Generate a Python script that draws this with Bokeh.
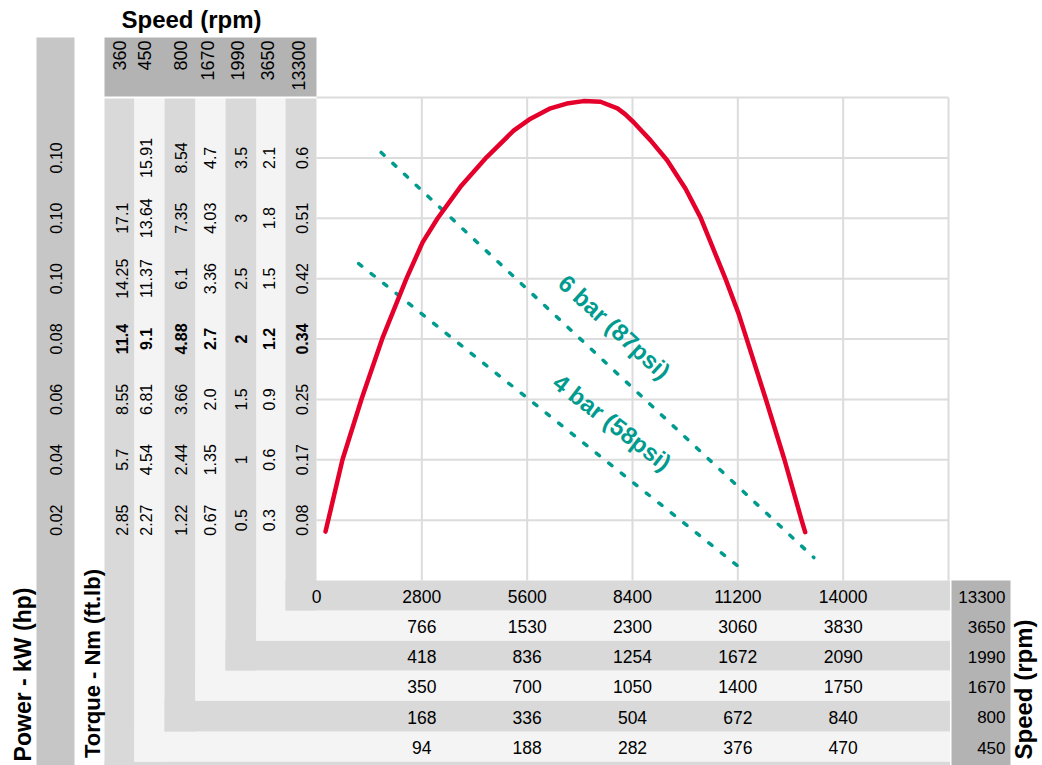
import math
from bokeh.plotting import figure
from bokeh.models import Range1d
from bokeh.core.properties import value
from bokeh.embed import file_html
from bokeh.resources import INLINE

# ---------------- data ----------------
speeds_rpm = ["360", "450", "800", "1670", "1990", "3650", "13300"]
power_kw = ["0.10", "0.10", "0.10", "0.08", "0.06", "0.04", "0.02"]      # top -> bottom
torque_360 = ["", "17.1", "14.25", "11.4", "8.55", "5.7", "2.85"]
torque_450 = ["15.91", "13.64", "11.37", "9.1", "6.81", "4.54", "2.27"]
torque_800 = ["8.54", "7.35", "6.1", "4.88", "3.66", "2.44", "1.22"]
torque_1670 = ["4.7", "4.03", "3.36", "2.7", "2.0", "1.35", "0.67"]
torque_1990 = ["3.5", "3", "2.5", "2", "1.5", "1", "0.5"]
torque_3650 = ["2.1", "1.8", "1.5", "1.2", "0.9", "0.6", "0.3"]
torque_13300 = ["0.6", "0.51", "0.42", "0.34", "0.25", "0.17", "0.08"]
torque_levels = [7, 6, 5, 4, 3, 2, 1]
bold_level = 4

x_ticks = [0, 2800, 5600, 8400, 11200, 14000]
speed_13300 = ["0", "2800", "5600", "8400", "11200", "14000"]
speed_3650 = ["766", "1530", "2300", "3060", "3830"]
speed_1990 = ["418", "836", "1254", "1672", "2090"]
speed_1670 = ["350", "700", "1050", "1400", "1750"]
speed_800 = ["168", "336", "504", "672", "840"]
speed_450 = ["94", "188", "282", "376", "470"]
row_speeds = ["13300", "3650", "1990", "1670", "800", "450"]

grid_x = [2800, 5600, 8400, 11200, 14000, 16800]
grid_levels = [1, 2, 3, 4, 5, 6, 7, 8]
x_max = 16800
level_max = 8

curve_rpm = [240, 690, 1200, 1750, 2390, 2820, 3220, 3850, 4520, 5240, 5690,
             6220, 6650, 7100, 7550, 8000, 8210, 8430, 8880, 9320, 9810,
             10210, 10870, 11220, 11430, 11940, 12440, 12890, 12990]
curve_level = [0.81, 2.0, 3.01, 4.01, 5.0, 5.6, 6.0, 6.54, 7.01, 7.45, 7.65,
               7.82, 7.9, 7.94, 7.93, 7.82, 7.72, 7.59, 7.29, 6.96, 6.49,
               6.01, 5.0, 4.42, 4.01, 3.01, 2.0, 1.01, 0.8]

bar6_rpm = [1720, 13220]
bar6_level = [7.09, 0.38]
bar4_rpm = [1120, 11180]
bar4_level = [5.25, 0.25]
bar_labels = ["6 bar (87psi)", "4 bar (58psi)"]
bar_label_rpm = [7920, 7860]
bar_label_level = [4.2, 2.62]
bar_label_angle_deg = [-42.5, -37.5]

# ---------------- layout (image pixels) ----------------
W, H = 1042, 765
MARGIN = 0
PX0, PX1 = 316, 948          # image x of 0 rpm and x_max
PY0, PY1 = 580, 97           # image y of level 0 and level_max
SX = (PX1 - PX0) / x_max
SY = (PY0 - PY1) / level_max


def dx(ix):
    return (ix - PX0) / SX


def dy(iy):
    return (PY0 - iy) / SY


FONT = value("Liberation Sans")
DARK = "#b3b3b3"
MID = "#c6c6c6"
LIGHT = "#d9d9d9"
PALE = "#f4f4f4"
GRID = "#dcdcdc"
RED = "#e4002b"
TEAL = "#009b8f"
TXT = "#000000"

p = figure(width=W, height=H, output_backend="svg", toolbar_location=None,
           x_axis_location=None, y_axis_location=None, min_border=0,
           x_range=Range1d(dx(MARGIN), dx(MARGIN + W)),
           y_range=Range1d(dy(MARGIN + H), dy(MARGIN)))
p.outline_line_color = None
p.grid.grid_line_color = None
p.background_fill_color = "white"
p.border_fill_color = "white"

COL_EDGES = [104, 134, 164, 195, 225, 256, 285, 316]
ROW_EDGES = [580, 610, 640, 670, 700, 731, 761, 792]
CELL_X = [121, 145, 180, 209, 240, 268, 301]
HEAD_X = [119, 144, 180, 207, 237, 267, 298]
ROWS_RIGHT = 949.5

# power column and header band
p.quad(left=[dx(36)], right=[dx(74)], top=[dy(37)], bottom=[dy(800)],
       fill_color=MID, line_color=None)
p.quad(left=[dx(104)], right=[dx(316)], top=[dy(37)], bottom=[dy(96)],
       fill_color=DARK, line_color=None)
# right speed band
p.quad(left=[dx(951)], right=[dx(1010)], top=[dy(580)], bottom=[dy(800)],
       fill_color=DARK, line_color=None)

# L-shaped bands
for i in range(7):
    col = LIGHT if i % 2 == 0 else PALE
    bot = ROW_EDGES[7 - i]
    top_r = ROW_EDGES[6 - i]
    p.quad(left=[dx(COL_EDGES[i])], right=[dx(COL_EDGES[i + 1])],
           top=[dy(98)], bottom=[dy(bot)], fill_color=col, line_color=None)
    p.quad(left=[dx(COL_EDGES[i])], right=[dx(ROWS_RIGHT)],
           top=[dy(top_r)], bottom=[dy(bot)], fill_color=col, line_color=None)

# grid
p.segment(x0=grid_x, y0=[0] * len(grid_x), x1=grid_x, y1=[level_max] * len(grid_x),
          line_color=GRID, line_width=2)
p.segment(x0=[0] * len(grid_levels), y0=grid_levels, x1=[x_max] * len(grid_levels),
          y1=grid_levels, line_color=GRID, line_width=2)

# curves
p.line(bar6_rpm, bar6_level, line_color=TEAL, line_width=3.5, line_dash="4 12",
       line_cap="round")
p.line(bar4_rpm, bar4_level, line_color=TEAL, line_width=3.5, line_dash="4 12",
       line_cap="round")
p.line(curve_rpm, curve_level, line_color=RED, line_width=4.5, line_cap="round",
       line_join="round")

p.text(x=bar_label_rpm, y=bar_label_level, text=bar_labels,
       angle=[math.radians(a) for a in bar_label_angle_deg],
       text_font=FONT, text_font_style="bold", text_font_size="24px",
       text_color=TEAL, text_align="center", text_baseline="middle")

# header speeds
p.text(x=[dx(v) for v in HEAD_X], y=[dy(40)] * 7, text=speeds_rpm, angle=math.pi / 2,
       text_font=FONT, text_font_size="18px", text_color=TXT,
       text_align="right", text_baseline="middle")

# torque cells
columns = [torque_360, torque_450, torque_800, torque_1670, torque_1990,
           torque_3650, torque_13300]
for i, colvals in enumerate(columns):
    for lvl, t in zip(torque_levels, colvals):
        if not t:
            continue
        p.text(x=[dx(CELL_X[i])], y=[lvl], text=[t], angle=math.pi / 2,
               text_font=FONT, text_font_size="16px", text_color=TXT,
               text_font_style="bold" if lvl == bold_level else "normal",
               text_align="center", text_baseline="middle")

# power labels
p.text(x=[dx(55)] * 7, y=torque_levels, text=power_kw, angle=math.pi / 2,
       text_font=FONT, text_font_size="16px", text_color=TXT,
       text_align="center", text_baseline="middle")

# bottom rows
row_values = [speed_13300, speed_3650, speed_1990, speed_1670, speed_800, speed_450]
for j, vals in enumerate(row_values):
    yc = dy((ROW_EDGES[j] + ROW_EDGES[j + 1]) / 2 + 1)
    xs = x_ticks if len(vals) == len(x_ticks) else x_ticks[1:]
    p.text(x=xs, y=[yc] * len(vals), text=vals, text_font=FONT,
           text_font_size="17.5px", text_color=TXT, text_align="center",
           text_baseline="middle")
    p.text(x=[dx(1005)], y=[yc], text=[row_speeds[j]], text_font=FONT,
           text_font_size="17px", text_color=TXT, text_align="right",
           text_baseline="middle")

# titles
p.text(x=[dx(191)], y=[dy(19)], text=["Speed (rpm)"], text_font=FONT,
       text_font_style="bold", text_font_size="24px", text_color=TXT,
       text_align="center", text_baseline="middle")
p.text(x=[dx(22)], y=[dy(674)], text=["Power - kW (hp)"], angle=math.pi / 2,
       text_font=FONT, text_font_style="bold", text_font_size="23px",
       text_color=TXT, text_align="center", text_baseline="middle")
p.text(x=[dx(92)], y=[dy(663)], text=["Torque - Nm (ft.lb)"], angle=math.pi / 2,
       text_font=FONT, text_font_style="bold", text_font_size="22px",
       text_color=TXT, text_align="center", text_baseline="middle")
p.text(x=[dx(1023)], y=[dy(689)], text=["Speed (rpm)"], angle=math.pi / 2,
       text_font=FONT, text_font_style="bold", text_font_size="24px",
       text_color=TXT, text_align="center", text_baseline="middle")

open("out.html", "w").write(file_html(p, INLINE))
